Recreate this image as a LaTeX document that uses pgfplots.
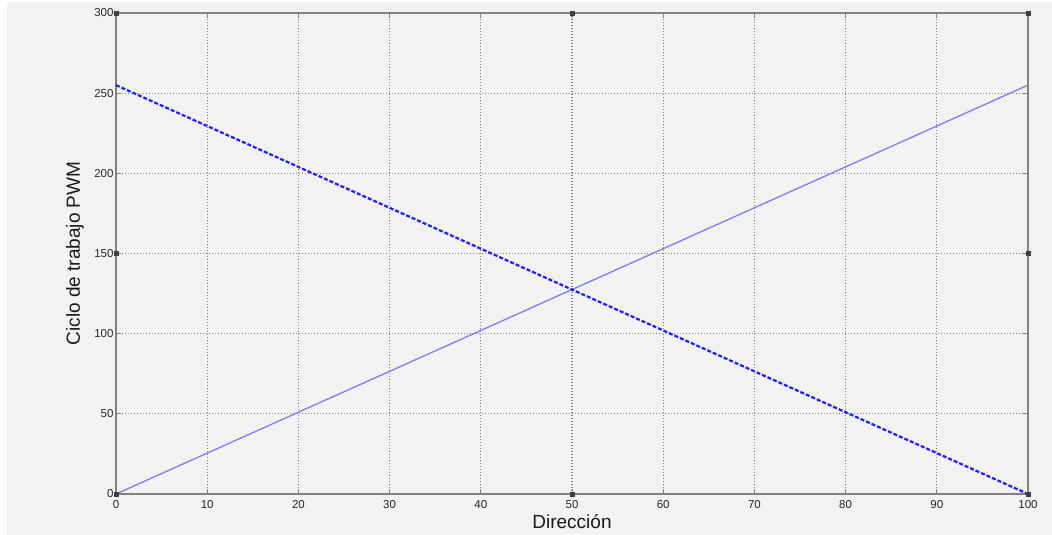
\documentclass[border=0pt]{standalone}
\usepackage{pgfplots}
\pgfplotsset{compat=1.18}
\usepackage{fontspec}
\setmainfont{Liberation Sans}
\definecolor{bg}{HTML}{F2F2F2}
\definecolor{lightline}{HTML}{7C7CFF}
\definecolor{darkline}{HTML}{1E1EFF}
\begin{document}
\begin{tikzpicture}[x=1pt,y=1pt]
\fill[white] (0,0) rectangle (1052,535);
\fill[bg] (7,0) rectangle (1052,533);
\begin{axis}[
  at={(116pt,41pt)}, anchor=south west,
  scale only axis, width=912pt, height=481pt,
  xmin=0, xmax=100, ymin=0, ymax=300,
  xtick={0,10,...,100}, ytick={0,50,...,300},
  grid=major,
  grid style={dash pattern=on 1.2pt off 1.8pt, black!50, line width=1.1pt},
  axis line style={black!50, line width=1.8pt},
  tick style={black!50, line width=1pt},
  tick align=inside, major tick length=5pt,
  ticklabel style={font=\fontsize{11.5}{13}\selectfont, text=black!85},
  xticklabel style={yshift=-3pt},
  yticklabel style={xshift=1pt},
  /pgf/number format/assume math mode=true,
  xlabel={Dirección},
  ylabel={Ciclo de trabajo PWM},
  label style={font=\fontsize{19}{22}\selectfont, text=black!90},
  xlabel style={at={(axis description cs:0.5,-0.058)}, anchor=center},
  ylabel style={at={(axis description cs:-0.045,0.5)}, anchor=center},
  clip=false,
]
\addplot[lightline, line width=1.3pt] coordinates {(0,0) (100,255)};
\addplot[darkline, line width=2.2pt, dash pattern=on 4pt off 2pt] coordinates {(0,255) (100,0)};
\addplot[only marks, mark=square*, mark size=2pt, black!75] coordinates {
  (0,0) (50,0) (100,0) (0,150) (100,150) (0,300) (50,300) (100,300)};
\end{axis}
\end{tikzpicture}
\end{document}
